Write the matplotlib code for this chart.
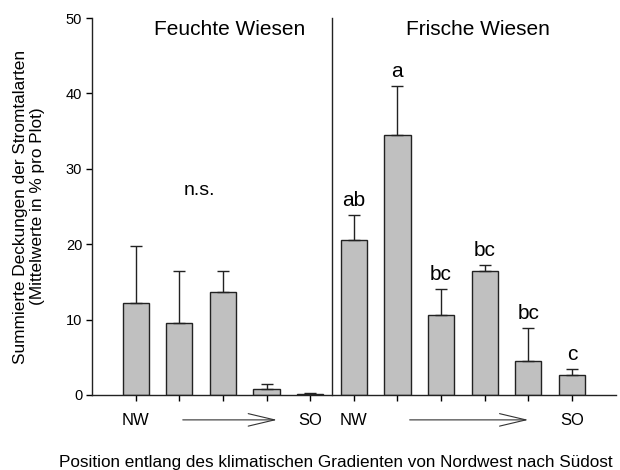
import matplotlib
matplotlib.use("Agg")
import matplotlib.pyplot as plt
import numpy as np

plt.rcParams['font.family'] = ['Liberation Sans', 'DejaVu Sans']

# Data
positions = list(range(11))
means = [12.2, 9.6, 13.6, 0.8, 0.1, 20.6, 34.5, 10.65, 16.4, 4.5, 2.6]
errors = [7.6, 6.9, 2.8, 0.6, 0.1, 3.3, 6.5, 3.45, 0.8, 4.35, 0.85]
tick_labels = ["NW", "", "", "", "SO", "NW", "", "", "", "", "SO"]
letters = ["", "", "", "", "", "ab", "a", "bc", "bc", "bc", "c"]
groups = ["Feuchte Wiesen", "Frische Wiesen"]
group_x = [2.16, 7.84]

fig = plt.figure(figsize=(6.2, 4.7), dpi=100)
ax = fig.add_axes([92/620, 75/470, (615.6-92)/620, 377/470])

ax.bar(positions, means, width=0.6, color='#c0c0c0', edgecolor='#222222', linewidth=1.0,
       yerr=[np.zeros(len(errors)), errors], capsize=4.5,
       error_kw=dict(ecolor='#222222', elinewidth=1.0, capthick=1.0), zorder=2)

ax.set_xlim(-1, 11)
ax.set_ylim(0, 50)
ax.set_yticks([0, 10, 20, 30, 40, 50])
ax.set_xticks(positions)
ax.set_xticklabels(tick_labels, fontsize=12)
ax.tick_params(axis='y', direction='out', length=4, width=1, labelsize=10.5, pad=3)
ax.tick_params(axis='x', direction='out', length=4, width=1, pad=9)

for s in ['top', 'right']:
    ax.spines[s].set_visible(False)
for s in ['left', 'bottom']:
    ax.spines[s].set_linewidth(1.0)
    ax.spines[s].set_color('#222222')

# divider
ax.plot([4.5, 4.5], [0, 50], color='#222222', lw=1.0, clip_on=False)

# group titles
for gx, g in zip(group_x, groups):
    ax.text(gx, 47.7, g, ha='center', va='baseline', fontsize=15)

ax.text(1.47, 26.5, "n.s.", ha='center', va='baseline', fontsize=14)

for p, m, e, l in zip(positions, means, errors, letters):
    if l:
        ax.text(p, m + e + 1.2, l, ha='center', va='baseline', fontsize=15)

# arrows
for x0, x1 in [(1.08, 3.24), (6.28, 9.0)]:
    ax.annotate("", xy=(x1, -0.066), xytext=(x0, -0.066),
                xycoords=('data', 'axes fraction'), textcoords=('data', 'axes fraction'),
                arrowprops=dict(arrowstyle='->,head_length=1.9,head_width=0.45',
                                lw=0.8, color='#333333', mutation_scale=10,
                                shrinkA=0, shrinkB=0),
                annotation_clip=False)

ax.set_ylabel("Summierte Deckungen der Stromtalarten\n(Mittelwerte in % pro Plot)",
              fontsize=12.4, labelpad=15)

fig.text(336/620, 3/470, "Position entlang des klimatischen Gradienten von Nordwest nach Südost",
         ha='center', va='baseline', fontsize=12.3)

fig.savefig("out.png", dpi=100)
